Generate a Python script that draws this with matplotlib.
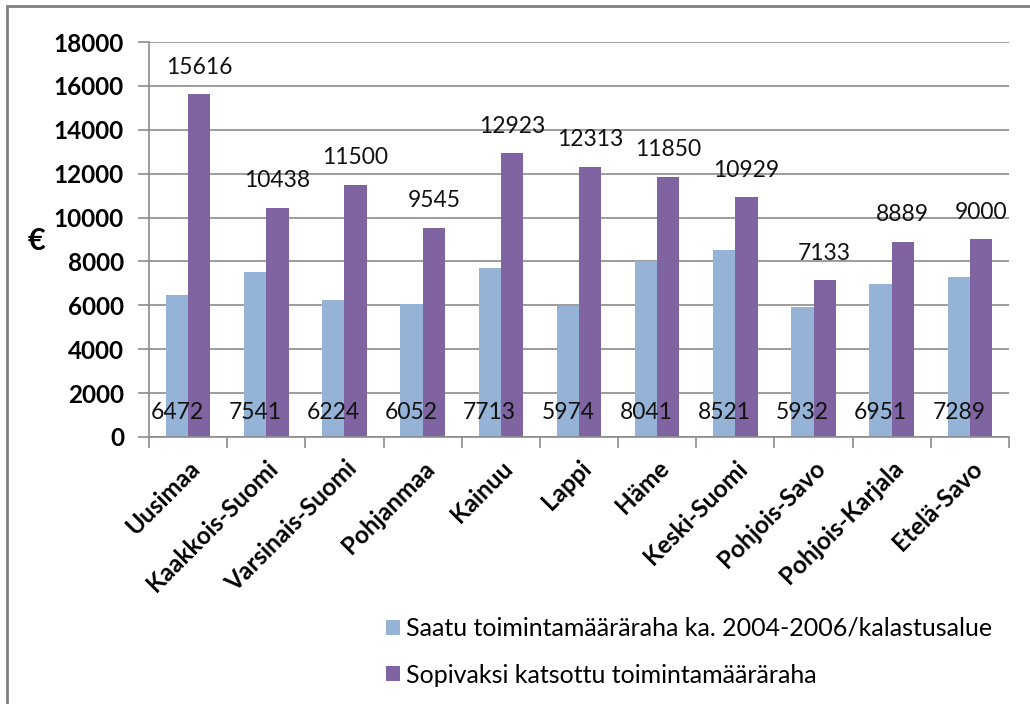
import matplotlib
matplotlib.use("Agg")
import matplotlib.pyplot as plt
from matplotlib.patches import Rectangle
import numpy as np

categories = ["Uusimaa", "Kaakkois-Suomi", "Varsinais-Suomi", "Pohjanmaa", "Kainuu",
              "Lappi", "Häme", "Keski-Suomi", "Pohjois-Savo", "Pohjois-Karjala", "Etelä-Savo"]
saatu = [6472, 7541, 6224, 6052, 7713, 5974, 8041, 8521, 5932, 6951, 7289]
sopiva = [15616, 10438, 11500, 9545, 12923, 12313, 11850, 10929, 7133, 8889, 9000]
series_names = ["Saatu toimintamääräraha ka. 2004-2006/kalastusalue",
                "Sopivaksi katsottu toimintamääräraha"]
yticks = list(range(0, 18001, 2000))

plt.rcParams['font.family'] = ['Lato', 'DejaVu Sans']

fig = plt.figure(figsize=(10.30, 7.04), dpi=100)
ax = fig.add_axes([149/1030, 1-437/704, (1009-149)/1030, (437-42)/704])

blue = "#95B3D7"
purple = "#8064A2"
x = np.arange(len(categories))
w = 0.285
ax.bar(x - w/2, saatu, w, color=blue, label=series_names[0], zorder=2)
ax.bar(x + w/2, sopiva, w, color=purple, label=series_names[1], zorder=2)

for xi, v in zip(x, saatu):
    ax.text(xi - w/2, 1100, str(v), ha='center', va='center', fontsize=16.5, color='#111111', zorder=3)
for xi, v in zip(x, sopiva):
    ax.annotate(str(v), (xi + w/2, v), xytext=(0, 12), textcoords='offset points',
                ha='center', va='bottom', fontsize=16.5, color='#111111', zorder=3)

ax.set_xlim(-0.5, len(categories) - 0.5)
ax.set_ylim(0, 18000)
ax.set_yticks(yticks)
ax.set_yticklabels([str(t) for t in yticks], fontsize=17.5, fontweight='bold')
ax.yaxis.grid(True, color='#8c8c8c', linewidth=1.2, zorder=0)
ax.set_axisbelow(True)

ax.set_xticks(np.arange(-0.5, len(categories), 1.0))
ax.set_xticklabels([])
ax.set_xticks(x, minor=True)
ax.set_xticklabels(categories, minor=True, rotation=45, ha='right', va='top',
                   rotation_mode='anchor', fontsize=17.5, fontweight='bold')
ax.tick_params(axis='x', which='minor', length=0, pad=14)
ax.tick_params(axis='x', which='major', length=8, width=1.2, color='#8c8c8c')
ax.tick_params(axis='y', length=8, width=1.2, color='#8c8c8c', pad=10)

for s in ['top', 'right']:
    ax.spines[s].set_visible(False)
for s in ['left', 'bottom']:
    ax.spines[s].set_color('#8c8c8c')
    ax.spines[s].set_linewidth(1.2)

fig.text(36/1030, 1-241/704, "€", fontsize=22, fontweight='bold', ha='center', va='center')

leg = fig.legend(loc='upper left', bbox_to_anchor=(376/1030, 1-607/704), frameon=False,
                 fontsize=18, handlelength=0.55, handleheight=0.55, handletextpad=0.25,
                 labelspacing=0.95, borderaxespad=0)

fig.patches.append(Rectangle((7/1030, -0.1), 1.2, 1 - 6/704 + 0.1, transform=fig.transFigure,
                             fill=False, edgecolor='#808080', linewidth=2.0))

fig.savefig("out.png", dpi=100)
